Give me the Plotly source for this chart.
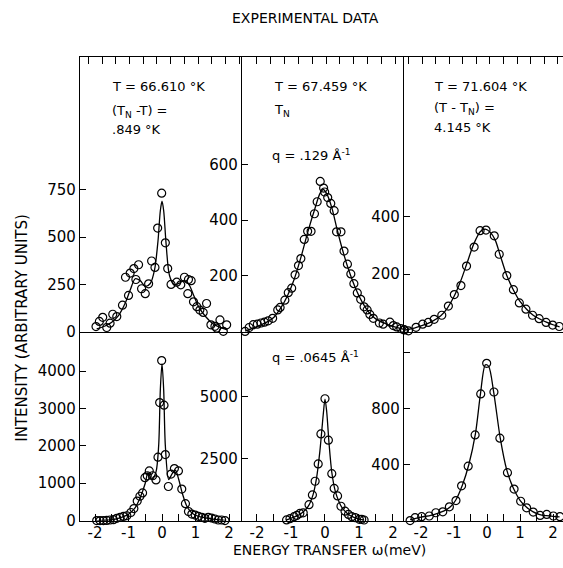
import plotly.graph_objects as go

# ---------------- data ----------------
# Panel A: T = 66.610 K, q = .129
a_x = [-1.97, -1.87, -1.77, -1.65, -1.55, -1.47, -1.35, -1.18, -1.0, -1.09, -0.95, -0.84, -0.70, -0.78,
       -0.61, -0.50, -0.40, -0.31, -0.21, -0.13, -0.01, 0.10, 0.17, 0.27, 0.44, 0.56, 0.67, 0.79, 0.87,
       0.77, 0.94, 1.04, 1.13, 1.23, 1.33, 1.46, 1.58, 1.63, 1.73, 1.83, 1.93]
a_y = [27, 54, 76, 22, 45, 92, 80, 140, 192, 288, 310, 334, 354, 276,
       227, 201, 253, 374, 340, 548, 733, 470, 334, 250, 262, 248, 288, 276, 270,
       201, 158, 132, 114, 102, 149, 36, 28, 19, 62, 2, 36]
a_fit_x = [-1.95, -1.7, -1.5, -1.3, -1.1, -0.95, -0.8, -0.65, -0.5, -0.35, -0.22, -0.12, -0.05, 0.0,
           0.05, 0.12, 0.22, 0.35, 0.5, 0.65, 0.8, 0.95, 1.1, 1.3, 1.5, 1.7, 1.95]
a_fit_y = [15, 30, 50, 85, 150, 220, 280, 270, 240, 255, 330, 480, 640, 690,
           640, 470, 300, 250, 255, 270, 250, 190, 130, 80, 45, 25, 10]

# Panel B: T = 67.459 K (T_N), q = .129
b_x = [-2.35, -2.23, -2.11, -1.99, -1.88, -1.78, -1.67, -1.54, -1.39, -1.32, -1.18, -1.08, -0.98, -0.88,
       -0.78, -0.71, -0.61, -0.51, -0.41, -0.31, -0.23, -0.14, -0.04, -0.01, 0.08, 0.17, 0.27, 0.34,
       0.47, 0.56, 0.66, 0.76, 0.85, 0.95, 1.05, 1.15, 1.24, 1.32, 1.42, 1.60, 1.71, 1.91, 2.01, 2.11,
       2.23, 2.32]
b_y = [1, 15, 25, 27, 31, 34, 39, 48, 78, 87, 113, 140, 156, 204,
       237, 262, 331, 360, 360, 423, 466, 539, 515, 501, 481, 460, 434, 358,
       358, 289, 242, 207, 172, 139, 116, 89, 78, 62, 48, 31, 27, 34, 22, 17,
       11, 7]
b_fit_x = [-2.35, -2.0, -1.7, -1.5, -1.3, -1.1, -0.9, -0.7, -0.5, -0.3, -0.15, -0.05, 0.05, 0.2,
           0.35, 0.5, 0.7, 0.9, 1.1, 1.3, 1.5, 1.8, 2.1, 2.32]
b_fit_y = [2, 18, 35, 52, 85, 130, 190, 270, 360, 440, 495, 510, 495, 445,
           370, 300, 220, 155, 105, 68, 45, 28, 15, 8]

# Panel C: T = 71.604 K, q = .129
c_x = [-2.50, -2.38, -2.15, -1.95, -1.78, -1.60, -1.37, -1.17, -0.99, -0.79, -0.62, -0.39, -0.21, -0.03,
       0.22, 0.37, 0.60, 0.80, 0.98, 1.18, 1.38, 1.58, 1.79, 1.99, 2.19]
c_y = [6, 3, 15, 26, 32, 43, 57, 89, 129, 160, 228, 294, 351, 353,
       333, 269, 195, 146, 100, 78, 57, 45, 32, 23, 18]
c_fit_x = [-2.5, -2.2, -2.0, -1.7, -1.4, -1.2, -1.0, -0.8, -0.6, -0.4, -0.2, -0.05, 0.1, 0.25,
           0.4, 0.6, 0.8, 1.0, 1.2, 1.4, 1.6, 1.8, 2.0, 2.2]
c_fit_y = [5, 12, 20, 33, 55, 82, 122, 175, 240, 305, 348, 356, 345, 318,
           265, 195, 145, 105, 78, 57, 44, 33, 24, 17]

# Panel D: T = 66.610 K, q = .0645
d_x = [-1.95, -1.85, -1.75, -1.65, -1.55, -1.45, -1.35, -1.25, -1.15, -1.05, -0.93, -0.84, -0.74, -0.66,
       -0.58, -0.51, -0.44, -0.38, -0.28, -0.18, -0.12, -0.07, -0.01, 0.06, 0.10, 0.19, 0.27, 0.37,
       0.49, 0.59, 0.70, 0.79, 0.89, 0.99, 1.09, 1.19, 1.28, 1.38, 1.48, 1.58, 1.68, 1.78, 1.88]
d_y = [0, 0, 0, 5, 17, 26, 60, 87, 113, 130, 217, 322, 522, 652,
       740, 1148, 1200, 1330, 1200, 1087, 1696, 3157, 4280, 3087, 1765, 913, 1244, 1392,
       1330, 844, 452, 244, 174, 148, 113, 87, 60, 87, 70, 43, 17, 17, 0]
d_fit_x = [-1.95, -1.5, -1.2, -1.0, -0.8, -0.65, -0.5, -0.42, -0.3, -0.18, -0.1, -0.05, 0.0, 0.05,
           0.1, 0.2, 0.3, 0.4, 0.5, 0.6, 0.75, 0.9, 1.1, 1.4, 1.7, 1.9]
d_fit_y = [0, 20, 90, 170, 350, 620, 1000, 1280, 1100, 1300, 2000, 3500, 4200, 3500,
           2000, 1100, 1250, 1350, 1100, 750, 370, 200, 110, 60, 20, 5]

# Panel E: T = 67.459 K, q = .0645
e_x = [-1.13, -1.03, -0.91, -0.83, -0.74, -0.64, -0.47, -0.37, -0.29, -0.20, -0.12, 0.0, 0.10, 0.20,
       0.27, 0.37, 0.47, 0.59, 0.69, 0.79, 0.89, 1.01, 1.08, 1.15]
e_y = [28, 79, 158, 210, 289, 315, 643, 1037, 1588, 2285, 3494, 4913, 3243, 1891,
       1300, 997, 579, 382, 248, 158, 118, 51, 51, 25]
e_fit_x = [-1.15, -0.9, -0.7, -0.5, -0.35, -0.25, -0.15, -0.05, 0.0, 0.05, 0.12, 0.2, 0.3, 0.4,
           0.5, 0.65, 0.8, 1.0, 1.15]
e_fit_y = [20, 150, 290, 560, 1050, 1700, 2800, 4300, 4900, 4400, 3100, 1950, 1200, 800,
           520, 300, 160, 60, 25]

# Panel F: T = 71.604 K, q = .0645
f_x = [-2.33, -2.18, -1.98, -1.75, -1.55, -1.34, -1.14, -0.94, -0.77, -0.57, -0.36, -0.19, -0.01, 0.21,
       0.39, 0.62, 0.82, 1.02, 1.20, 1.40, 1.61, 1.81, 2.01, 2.21]
f_y = [0, 21, 28, 33, 56, 63, 98, 143, 248, 388, 611, 903, 1121, 917,
       588, 342, 225, 138, 91, 61, 37, 44, 33, 28]
f_fit_x = [-2.33, -2.0, -1.7, -1.5, -1.3, -1.1, -0.95, -0.75, -0.55, -0.35, -0.2, -0.05, 0.05, 0.2,
           0.4, 0.6, 0.8, 1.0, 1.2, 1.4, 1.6, 1.8, 2.0, 2.2]
f_fit_y = [5, 25, 38, 52, 70, 100, 145, 250, 400, 620, 900, 1110, 1100, 920,
           590, 360, 230, 145, 95, 62, 42, 35, 30, 26]

x_tick_vals = [-2, -1, 0, 1, 2]
x_tick_text = ["-2", "-1", "0", "1", "2"]

panels = [
    (a_x, a_y, a_fit_x, a_fit_y),
    (b_x, b_y, b_fit_x, b_fit_y),
    (c_x, c_y, c_fit_x, c_fit_y),
    (d_x, d_y, d_fit_x, d_fit_y),
    (e_x, e_y, e_fit_x, e_fit_y),
    (f_x, f_y, f_fit_x, f_fit_y),
]

# ---------------- layout geometry ----------------
W, H = 563, 568
col_px = [(80, 242), (242, 404), (404, 563)]
row_px = [(58, 337), (337, 529)]
x_ranges = [[-2.448, 2.388], [-2.441, 2.324], [-2.515, 2.303]]
y_ranges = [[0, 1453], [0, 985], [0, 954], [0, 5053], [0, 7619], [0, 1347]]
y_ticks = [
    ([0, 250, 500, 750], ["0", "250", "500", "750"]),
    ([200, 400, 600], ["200", "400", "600"]),
    ([200, 400], ["200", "400"]),
    ([0, 1000, 2000, 3000, 4000], ["0", "1000", "2000", "3000", "4000"]),
    ([2500, 5000], ["2500", "5000"]),
    ([400, 800], ["400", "800"]),
]
top_tick0 = [-0.15, 0.03, 0.09]

FONT = "DejaVu Sans"
fig = go.Figure()
layout = dict(
    width=W, height=H, margin=dict(l=0, r=0, t=0, b=0),
    paper_bgcolor="white", plot_bgcolor="rgba(0,0,0,0)",
    showlegend=False, font=dict(family=FONT, size=14, color="black"),
)

for i, (px, py, fx, fy) in enumerate(panels):
    r, c = divmod(i, 3)
    n = "" if i == 0 else str(i + 1)
    xa, ya = "x" + n, "y" + n
    fig.add_trace(go.Scatter(x=fx, y=fy, mode="lines",
                             line=dict(color="black", width=1.3, shape="spline", smoothing=0.8),
                             xaxis=xa, yaxis=ya, hoverinfo="skip"))
    fig.add_trace(go.Scatter(x=px, y=py, mode="markers",
                             marker=dict(symbol="circle-open", size=8, color="black", line=dict(width=1.2)),
                             xaxis=xa, yaxis=ya, cliponaxis=False))
    x0, x1 = col_px[c]
    y0, y1 = row_px[r]
    xdom = [x0 / W, x1 / W]
    ydom = [1 - y1 / H, 1 - y0 / H]
    xax = dict(domain=xdom, range=x_ranges[c], anchor=ya, showgrid=False, zeroline=False,
               showline=True, linecolor="black", linewidth=1.2)
    if r == 0:
        xax.update(side="top", mirror=True, ticks="inside", ticklen=7, tickcolor="black",
                   tick0=top_tick0[c], dtick=0.41, showticklabels=False)
    else:
        xax.update(ticks="inside", ticklen=7, tickcolor="black", tickvals=x_tick_vals,
                   ticktext=x_tick_text, tickfont=dict(size=15, family=FONT), ticklabelstandoff=-2,
                   minor=dict(ticks="inside", ticklen=7, tickcolor="black", dtick=0.5, tick0=0,
                              showgrid=False))
    yax = dict(domain=ydom, range=y_ranges[i], anchor=xa, showgrid=False, zeroline=False,
               showline=True, linecolor="black", linewidth=1.2, ticks="inside", ticklen=6,
               tickcolor="black", tickvals=y_ticks[i][0], ticktext=y_ticks[i][1],
               tickfont=dict(size=15, family=FONT))
    if i == 5:
        yax["minor"] = dict(ticks="inside", ticklen=6, tickcolor="black", dtick=400, tick0=0,
                            showgrid=False)
    layout["xaxis" + n] = xax
    layout["yaxis" + n] = yax

fig.update_layout(**layout)

def ann(text, x, y, size=13, xanchor="left", angle=0, yanchor="middle"):
    fig.add_annotation(text=text, x=x / W, y=1 - y / H, xref="paper", yref="paper",
                       showarrow=False, xanchor=xanchor, yanchor=yanchor, textangle=angle,
                       borderpad=0, font=dict(family=FONT, size=size, color="black"))

ann("EXPERIMENTAL DATA", 305, 18, 14, "center")
ann("INTENSITY (ARBITRARY UNITS)", 22, 333, 15, "center", -90)
ann("ENERGY TRANSFER ω(meV)", 329, 568, 14, "center", yanchor="bottom")

ann("T = 66.610 °K", 111, 88)
ann("(T<sub>N</sub> -T) =", 111, 113)
ann(".849 °K", 111, 132)
ann("T = 67.459 °K", 273, 88)
ann("T<sub>N</sub>", 273, 112)
ann("q = .129 Å<sup>-1</sup>", 271, 158)
ann("T = 71.604 °K", 433, 88)
ann("(T - T<sub>N</sub>) =", 433, 110)
ann("4.145 °K", 433, 130)
ann("q = .0645 Å<sup>-1</sup>", 271, 363)

fig.write_html("out.html")
